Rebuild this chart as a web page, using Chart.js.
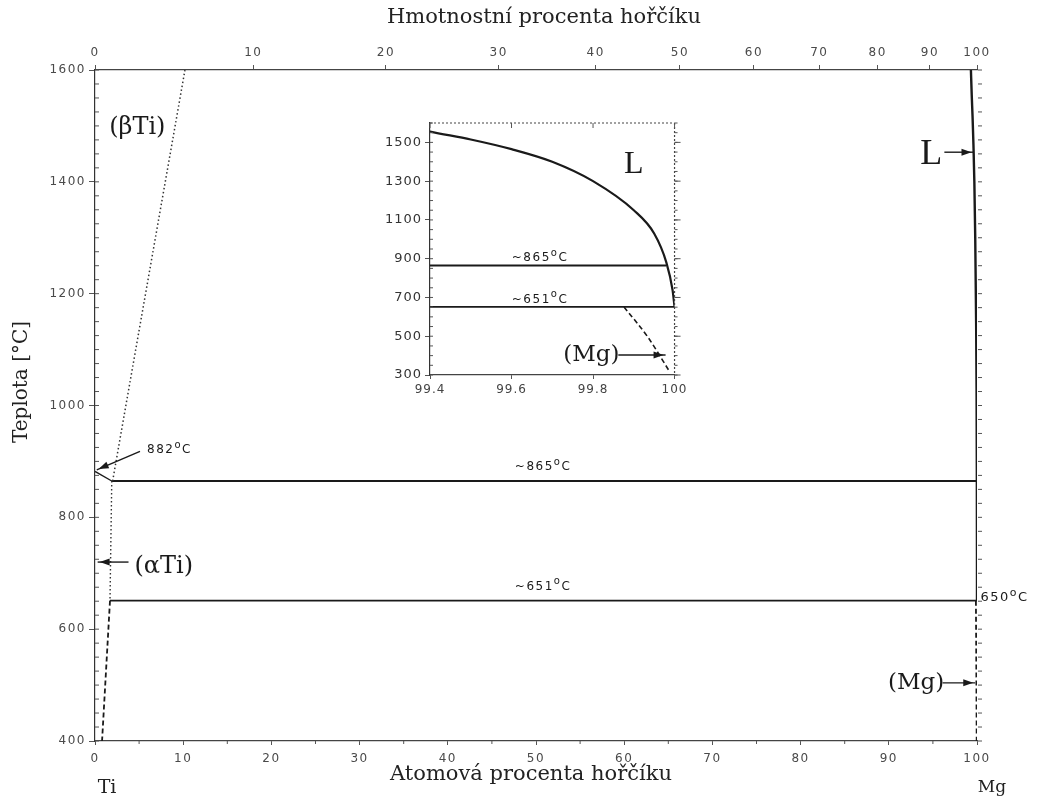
<!DOCTYPE html>
<html>
<head>
<meta charset="utf-8">
<script src="https://cdn.jsdelivr.net/npm/chart.js@4.4.1/dist/chart.umd.min.js"></script>
<style>
  html, body { margin: 0; padding: 0; background: #fff; }
  #wrap { position: relative; width: 1041px; height: 798px; }
  #main { position: absolute; left: 0; top: 0; }
  #inset { position: absolute; left: 380px; top: 110px; }
</style>
</head>
<body>
<div id="wrap">
  <canvas id="main" width="1041" height="798"></canvas>
  <canvas id="inset" width="310" height="300"></canvas>
</div>
<script>
// osy
const atTicks = [0, 10, 20, 30, 40, 50, 60, 70, 80, 90, 100];
const wtTicks = [0, 10, 20, 30, 40, 50, 60, 70, 80, 90, 100];
const tempTicks = [400, 600, 800, 1000, 1200, 1400, 1600];
const insetXTicks = [99.4, 99.6, 99.8, 100];
const insetYTicks = [300, 500, 700, 900, 1100, 1300, 1500];

// krivky (at.% Mg, teplota °C)
const betaTiBoundary = [{x: 2.0, y: 865}, {x: 3.5, y: 1000}, {x: 10.2, y: 1600}];
const betaTransus = [{x: 0, y: 882}, {x: 1.9, y: 865}];
const alphaSolvusHigh = [{x: 1.9, y: 865}, {x: 1.7, y: 651}];
const alphaSolvusLow = [{x: 1.7, y: 651}, {x: 0.8, y: 400}];
const iso865 = [{x: 1.9, y: 865}, {x: 100, y: 865}];
const iso651 = [{x: 1.7, y: 651}, {x: 100, y: 651}];
const liquidusMg = [
  {x: 99.31, y: 1600}, {x: 99.4, y: 1556}, {x: 99.5, y: 1515}, {x: 99.6, y: 1465},
  {x: 99.7, y: 1400}, {x: 99.8, y: 1300}, {x: 99.9, y: 1150}, {x: 99.95, y: 1030},
  {x: 99.98, y: 880}, {x: 99.995, y: 740}, {x: 100, y: 651}
];
const mgSolvus = [{x: 99.876, y: 651}, {x: 99.934, y: 497}, {x: 99.988, y: 317}];
const insetIso865 = [{x: 99.4, y: 865}, {x: 99.979, y: 865}];
const insetIso651 = [{x: 99.4, y: 651}, {x: 100, y: 651}];

// hm.% -> at.% (Mg 24.305, Ti 47.867)
function wtToAt(w) {
  const mg = w / 24.305, ti = (100 - w) / 47.867;
  return 100 * mg / (mg + ti);
}

const INK = '#1a1a1a';
const TICK = '#4a4a4a';
const SANS = '"DejaVu Sans", sans-serif';
const SERIF = '"DejaVu Serif", "Liberation Serif", serif';
const SERIF2 = '"Liberation Serif", serif';

function line(data, opts) {
  return Object.assign({
    data: data, showLine: true, pointRadius: 0, borderColor: INK,
    borderWidth: 1.8, fill: false, tension: 0
  }, opts || {});
}

function arrow(ctx, x1, y1, x2, y2) {
  const a = Math.atan2(y2 - y1, x2 - x1), h = 10, w = 3.5;
  ctx.beginPath();
  ctx.moveTo(x1, y1);
  ctx.lineTo(x2, y2);
  ctx.stroke();
  const bx = x2 - 2 * Math.cos(a), by = y2 - 2 * Math.sin(a);
  ctx.beginPath();
  ctx.moveTo(bx, by);
  ctx.lineTo(bx - h * Math.cos(a) + w * Math.sin(a), by - h * Math.sin(a) - w * Math.cos(a));
  ctx.lineTo(bx - h * Math.cos(a) - w * Math.sin(a), by - h * Math.sin(a) + w * Math.cos(a));
  ctx.closePath();
  ctx.fill();
}

function degText(ctx, num, x, y, size, align) {
  const big = size + 'px ' + SANS, small = Math.round(size * 0.85) + 'px ' + SANS;
  ctx.letterSpacing = '1.5px';
  ctx.font = big; const w1 = ctx.measureText(num).width;
  ctx.font = small; const w2 = ctx.measureText('o').width;
  ctx.font = big; const w3 = ctx.measureText('C').width;
  const total = w1 + w2 + w3;
  const x0 = align === 'center' ? x - total / 2 : (align === 'right' ? x - total : x);
  ctx.textAlign = 'left';
  ctx.textBaseline = 'middle';
  ctx.font = big; ctx.fillText(num, x0, y);
  ctx.font = small; ctx.fillText('o', x0 + w1, y - size * 0.4);
  ctx.font = big; ctx.fillText('C', x0 + w1 + w2, y);
  ctx.letterSpacing = '0px';
}

function serifText(ctx, txt, x, y, size, align, family, baseline) {
  ctx.letterSpacing = '0px';
  ctx.font = size + 'px ' + (family || SERIF);
  ctx.textAlign = align || 'center';
  ctx.textBaseline = baseline || 'middle';
  ctx.fillText(txt, x, y);
}

function minorTicks(ctx, a) {
  // drobne carky na okrajich
  ctx.save();
  ctx.strokeStyle = '#555';
  ctx.lineWidth = 1;
  ctx.beginPath();
  a.forEach(t => { ctx.moveTo(t[0], t[1]); ctx.lineTo(t[2], t[3]); });
  ctx.stroke();
  ctx.restore();
}

function spacing(px) {
  return { id: 'spacing', beforeDraw(chart) { chart.ctx.letterSpacing = px; } };
}

const mainDecor = {
  id: 'mainDecor',
  afterDraw(chart) {
    const {ctx, chartArea: ca} = chart;
    const xs = chart.scales.x, ys = chart.scales.y;
    const px = v => xs.getPixelForValue(v), py = v => ys.getPixelForValue(v);

    const marks = [];
    for (let t = 400; t <= 1600; t += 25) {
      marks.push([ca.left, py(t), ca.left + 4, py(t)]);
      marks.push([ca.right + 1, py(t), ca.right + 5, py(t)]);
    }
    for (let v = 5; v < 100; v += 10) {
      marks.push([px(v), ca.bottom, px(v), ca.bottom + 3]);
    }
    minorTicks(ctx, marks);

    ctx.save();
    ctx.fillStyle = INK;
    ctx.strokeStyle = INK;
    ctx.lineWidth = 1.4;

    // titulky os
    ctx.fillStyle = '#222';
    serifText(ctx, 'Hmotnostní procenta hořčíku', 544, 18, 21);
    serifText(ctx, 'Atomová procenta hořčíku', 531, 775, 21);
    serifText(ctx, 'Ti', 107, 788, 19);
    serifText(ctx, 'Mg', 992, 788, 17);
    ctx.save();
    ctx.translate(22, 382);
    ctx.rotate(-Math.PI / 2);
    serifText(ctx, 'Teplota [°C]', 0, 0, 20);
    ctx.restore();

    // popisky oblasti
    ctx.fillStyle = INK;
    serifText(ctx, '(βTi)', px(4.8), py(1496), 24);
    serifText(ctx, '(αTi)', px(7.8), py(712), 24);
    serifText(ctx, 'L', px(94.8), py(1432), 36, 'center', SERIF2, 'alphabetic');
    serifText(ctx, '(Mg)', px(93.1), py(504), 23);

    degText(ctx, '882', px(5.9), py(920), 12, 'left');
    degText(ctx, '~865', px(50.8), py(890), 12, 'center');
    degText(ctx, '~651', px(50.8), py(676), 12, 'center');
    degText(ctx, '650', px(100.4), py(656), 13, 'left');

    arrow(ctx, px(5.1), py(918), px(0.2), py(885));
    arrow(ctx, px(3.8), py(720), px(0.3), py(720));
    arrow(ctx, px(96.3), py(1453), px(99.6), py(1453));
    arrow(ctx, px(96.1), py(504), px(99.8), py(504));
    ctx.restore();
  }
};

const plainNum = v => String(v);

new Chart(document.getElementById('main'), {
  type: 'scatter',
  data: {
    datasets: [
      line(betaTiBoundary, {borderDash: [1.5, 2.5], borderWidth: 1.5, borderColor: '#333'}),
      line(betaTransus, {borderWidth: 1.4}),
      line(alphaSolvusHigh, {borderDash: [1.5, 2.5], borderWidth: 1.4, borderColor: '#333'}),
      line(alphaSolvusLow, {borderDash: [5, 3], borderWidth: 1.8}),
      line(iso865),
      line(iso651),
      line(liquidusMg, {borderWidth: 2.4, cubicInterpolationMode: 'monotone'}),
      line(mgSolvus, {borderDash: [5, 3], borderWidth: 1.8, cubicInterpolationMode: 'monotone'})
    ]
  },
  options: {
    responsive: false,
    animation: false,
    layout: {padding: {left: 0, right: 64, top: 0, bottom: 0}},
    plugins: {legend: {display: false}, tooltip: {enabled: false}},
    scales: {
      x: {
        type: 'linear', position: 'bottom', min: 0, max: 100,
        afterBuildTicks: s => { s.ticks = atTicks.map(v => ({value: v})); },
        afterFit: s => { s.height = 57; },
        ticks: {color: TICK, font: {family: SANS, size: 12}, padding: 7, autoSkip: false, maxRotation: 0, callback: plainNum},
        grid: {drawOnChartArea: false, drawTicks: true, tickLength: 4, color: '#555'},
        border: {color: '#444', width: 1.2, dash: [2, 2]}
      },
      x2: {
        type: 'linear', position: 'top', min: 0, max: 100,
        afterBuildTicks: s => { s.ticks = wtTicks.map(w => ({value: wtToAt(w)})); },
        afterFit: s => { s.height = 70; },
        ticks: {
          color: TICK, font: {family: SANS, size: 12}, padding: 5, autoSkip: false, maxRotation: 0,
          callback: (v, i) => String(wtTicks[i])
        },
        grid: {drawOnChartArea: false, drawTicks: true, tickLength: 5, color: '#555'},
        border: {color: '#444', width: 1.2, dash: [2, 2]}
      },
      y: {
        type: 'linear', position: 'left', min: 400, max: 1600,
        afterBuildTicks: s => { s.ticks = tempTicks.map(v => ({value: v})); },
        afterFit: s => { s.width = 95; },
        ticks: {color: TICK, font: {family: SANS, size: 12}, padding: 3, autoSkip: false, callback: plainNum},
        grid: {drawOnChartArea: false, drawTicks: true, tickLength: 6, color: '#555'},
        border: {color: '#333', width: 1.2}
      }
    }
  },
  plugins: [spacing('1.5px'), mainDecor]
});

const insetDecor = {
  id: 'insetDecor',
  afterDraw(chart) {
    const {ctx, chartArea: ca} = chart;
    const xs = chart.scales.x, ys = chart.scales.y;
    const px = v => xs.getPixelForValue(v), py = v => ys.getPixelForValue(v);

    ctx.save();
    ctx.strokeStyle = '#444';
    ctx.lineWidth = 1.2;
    ctx.setLineDash([2, 2]);
    ctx.beginPath();
    ctx.moveTo(ca.left, ca.top); ctx.lineTo(ca.right, ca.top);
    ctx.moveTo(ca.right, ca.top); ctx.lineTo(ca.right, ca.bottom);
    ctx.stroke();
    ctx.restore();

    const marks = [];
    for (let t = 300; t <= 1600; t += 50) {
      marks.push([ca.left, py(t), ca.left + 3, py(t)]);
      marks.push([ca.right, py(t), ca.right + 3, py(t)]);
    }
    insetYTicks.forEach(t => marks.push([ca.right, py(t), ca.right + 6, py(t)]));
    insetXTicks.forEach(v => marks.push([px(v), ca.top, px(v), ca.top + 5]));
    minorTicks(ctx, marks);

    ctx.save();
    ctx.fillStyle = INK;
    ctx.strokeStyle = INK;
    ctx.lineWidth = 1.4;
    serifText(ctx, 'L', px(99.9), py(1340), 32, 'center', SERIF2, 'alphabetic');
    serifText(ctx, '(Mg)', px(99.796), py(405), 23);
    degText(ctx, '~865', px(99.67), py(902), 12, 'center');
    degText(ctx, '~651', px(99.67), py(690), 12, 'center');
    arrow(ctx, px(99.862), py(403), px(99.978), py(403));
    ctx.restore();
  }
};

new Chart(document.getElementById('inset'), {
  type: 'scatter',
  data: {
    datasets: [
      line(liquidusMg, {borderWidth: 2.2, cubicInterpolationMode: 'monotone'}),
      line(insetIso865),
      line(insetIso651),
      line(mgSolvus, {borderDash: [5, 3], borderWidth: 1.6, cubicInterpolationMode: 'monotone'})
    ]
  },
  options: {
    responsive: false,
    animation: false,
    layout: {padding: {left: 0, right: 13, top: 13, bottom: 0}},
    plugins: {legend: {display: false}, tooltip: {enabled: false}},
    scales: {
      x: {
        type: 'linear', position: 'bottom', min: 99.4, max: 100,
        afterBuildTicks: s => { s.ticks = insetXTicks.map(v => ({value: v})); },
        afterFit: s => { s.height = 35; },
        ticks: {
          color: '#444', font: {family: SANS, size: 12}, padding: 4, autoSkip: false, maxRotation: 0,
          callback: v => (v === 100 ? '100' : v.toFixed(1))
        },
        grid: {drawOnChartArea: false, drawTicks: true, tickLength: 4, color: '#555'},
        border: {color: '#444', width: 1.2, dash: [2, 2]}
      },
      y: {
        type: 'linear', position: 'left', min: 300, max: 1600,
        afterBuildTicks: s => { s.ticks = insetYTicks.map(v => ({value: v})); },
        afterFit: s => { s.width = 50; },
        ticks: {color: '#333', font: {family: SANS, size: 13}, padding: 3, autoSkip: false, callback: plainNum},
        grid: {drawOnChartArea: false, drawTicks: true, tickLength: 5, color: '#555'},
        border: {color: '#333', width: 1.2}
      }
    }
  },
  plugins: [spacing('1px'), insetDecor]
});
</script>
</body>
</html>
